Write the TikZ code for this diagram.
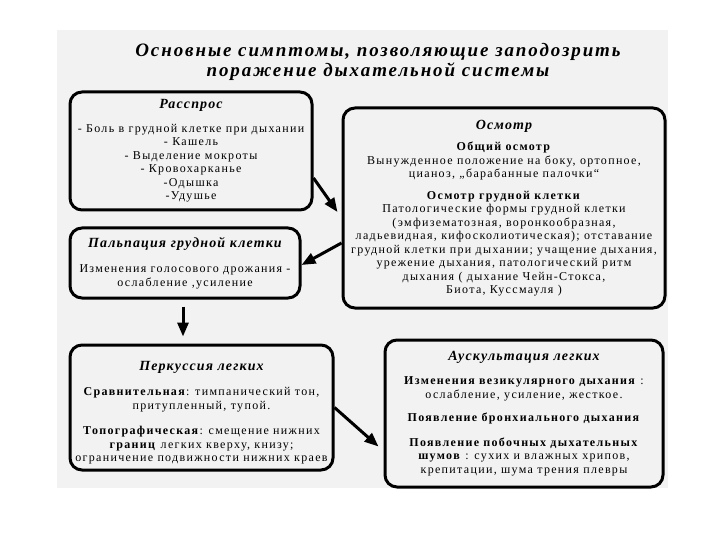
\documentclass[tikz,border=0pt]{standalone}
\usepackage{fontspec}
\setmainfont{Liberation Serif}
\newfontfamily\bodyfont{Liberation Serif}[LetterSpace=11]
\newfontfamily\headfont{Liberation Serif}[LetterSpace=8]
\newfontfamily\titlefont{Liberation Serif}[LetterSpace=10]
\usetikzlibrary{arrows.meta}

\tikzset{
  symbox/.style={draw=black, line width=3pt, rounded corners=12pt, align=center,
    inner sep=1pt, font=\bodyfont\fontsize{12}{13.5}\selectfont},
  bigarrow/.style={line width=3pt, -{Triangle[length=14pt,width=11pt]}}
}
\newcommand{\boxhead}[1]{{\headfont\bfseries\itshape\fontsize{14}{15}\selectfont #1}}

\begin{document}
\begin{tikzpicture}[x=1pt,y=-1pt]
        \useasboundingbox (0,0) rectangle (720,540);
        \fill [black!5] (57,30) rectangle (668,488);
        \node (title) [align=center, font=\titlefont\bfseries\itshape\fontsize{19}{20}\selectfont] at (378,62)
          {Основные симптомы, позволяющие заподозрить\\ поражение дыхательной системы};
        \node (rass) [symbox, minimum width=242pt, minimum height=118pt] at (191,151)
          {\boxhead{Расспрос}\\[10pt]
           - Боль в грудной клетке при дыхании\\
           - Кашель\\
           - Выделение мокроты\\
           - Кровохарканье\\
           -Одышка\\
           -Удушье};
        \node (osm) [symbox, minimum width=322pt, minimum height=200pt] at (504,208)
          {\boxhead{Осмотр}\\[8pt]
           \textbf{Общий осмотр}\\
           Вынужденное положение на боку, ортопное,\\
           цианоз, „барабанные палочки“\\[8pt]
           \textbf{Осмотр грудной клетки}\\
           Патологические формы грудной клетки\\
           (эмфизематозная, воронкообразная,\\
           ладьевидная, кифосколиотическая); отставание\\
           грудной клетки при дыхании; учащение дыхания,\\
           урежение дыхания, патологический ритм\\
           дыхания ( дыхание Чейн-Стокса,\\
           Биота, Куссмауля )};
        \node (palp) [symbox, minimum width=230pt, minimum height=70pt] at (185,263)
          {\boxhead{Пальпация грудной клетки}\\[12pt]
           Изменения голосового дрожания -\\
           ослабление ,усиление};
        \node (perk) [symbox, minimum width=263pt, minimum height=125pt] at (201.5,407.5)
          {\rule{0pt}{20pt}\boxhead{Перкуссия легких}\\[12pt]
           \textbf{Сравнительная}: тимпанический тон,\\
           притупленный, тупой.\\[12pt]
           \textbf{Топографическая}: смещение нижних\\
           \textbf{границ} легких кверху, книзу;\\
           ограничение подвижности нижних краев};
        \node (ausk) [symbox, minimum width=278pt, minimum height=147pt] at (524,413.5)
          {\boxhead{Аускультация легких}\\[11pt]
           \textbf{Изменения везикулярного дыхания} :\\
           ослабление, усиление, жесткое.\\[10pt]
           \textbf{Появление бронхиального дыхания}\\[11pt]
           \textbf{Появление побочных дыхательных}\\
           \textbf{шумов} : сухих и влажных хрипов,\\
           крепитации, шума трения плевры};
        \draw [bigarrow] ([yshift=-27pt]rass.east) -- ([yshift=-4pt,xshift=-4pt]osm.west);
        \draw [bigarrow] ([yshift=-35pt]osm.west) -- ([yshift=-2pt]palp.east);
        \draw [bigarrow] ([yshift=-7pt,xshift=-2pt]palp.south) -- ([yshift=7pt,xshift=-2pt]palp.south |- perk.north);
        \draw [bigarrow] (perk.east) -- ([yshift=-33pt,xshift=-5pt]ausk.west);
\end{tikzpicture}
\end{document}
